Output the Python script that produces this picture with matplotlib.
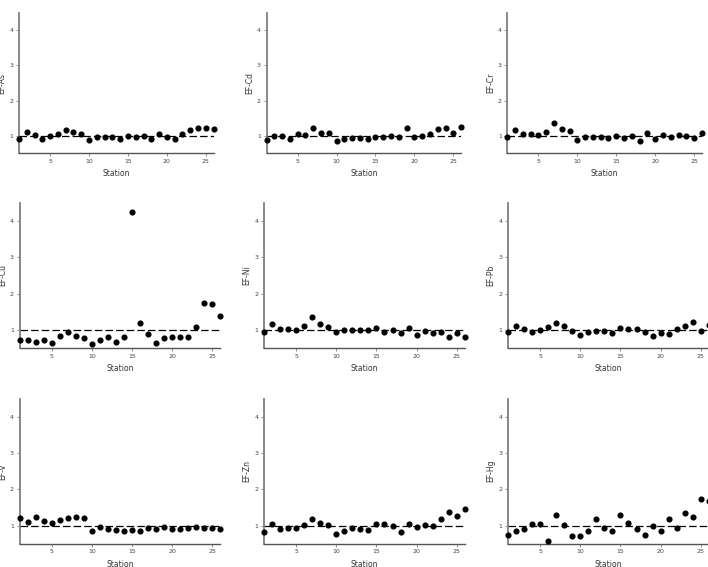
import matplotlib
matplotlib.use("Agg")
import matplotlib.pyplot as plt
import numpy as np

stations = list(range(1, 27))

ef_as = [0.92, 1.10, 1.01, 0.92, 1.00, 1.06, 1.17, 1.10, 1.05, 0.88, 0.95, 0.96, 0.96,
         0.92, 1.00, 0.95, 0.99, 0.91, 1.04, 0.95, 0.91, 1.04, 1.15, 1.21, 1.21, 1.20]
ef_cd = [0.89, 1.00, 1.00, 0.92, 1.04, 1.01, 1.23, 1.08, 1.09, 0.84, 0.91, 0.93, 0.93,
         0.91, 0.96, 0.97, 0.98, 0.96, 1.21, 0.97, 0.99, 1.06, 1.19, 1.21, 1.09, 1.25]
ef_cr = [0.97, 1.15, 1.04, 1.05, 1.03, 1.12, 1.37, 1.18, 1.14, 0.89, 0.95, 0.97, 0.97,
         0.94, 0.99, 0.93, 0.99, 0.86, 1.07, 0.91, 1.02, 0.95, 1.02, 0.98, 0.93, 1.09]
ef_cu = [0.71, 0.73, 0.67, 0.71, 0.65, 0.82, 0.94, 0.83, 0.77, 0.62, 0.71, 0.80, 0.67,
         0.81, 4.25, 1.19, 0.90, 0.63, 0.77, 0.81, 0.79, 0.81, 1.09, 1.74, 1.71, 1.38]
ef_ni = [0.95, 1.15, 1.02, 1.03, 1.01, 1.11, 1.36, 1.17, 1.08, 0.93, 1.01, 1.00, 0.99,
         0.99, 1.05, 0.94, 0.99, 0.91, 1.06, 0.86, 0.96, 0.92, 0.94, 0.81, 0.91, 0.79]
ef_pb = [0.94, 1.10, 1.02, 0.95, 1.01, 1.09, 1.19, 1.12, 0.98, 0.86, 0.94, 0.97, 0.97,
         0.92, 1.06, 1.02, 1.02, 0.94, 0.82, 0.91, 0.90, 1.02, 1.11, 1.22, 0.96, 1.14]
ef_v = [1.22, 1.11, 1.23, 1.12, 1.07, 1.15, 1.22, 1.25, 1.21, 0.85, 0.97, 0.91, 0.87,
        0.86, 0.87, 0.84, 0.94, 0.90, 0.95, 0.90, 0.90, 0.93, 0.95, 0.94, 0.94, 0.90]
ef_zn = [0.82, 1.04, 0.91, 0.94, 0.94, 1.01, 1.17, 1.08, 1.01, 0.78, 0.85, 0.92, 0.91,
         0.89, 1.04, 1.03, 0.99, 0.81, 1.03, 0.96, 1.01, 1.00, 1.19, 1.38, 1.27, 1.45]
ef_hg = [0.73, 0.86, 0.90, 1.03, 1.04, 0.58, 1.30, 1.02, 0.70, 0.70, 0.85, 1.18, 0.94,
         0.85, 1.28, 1.07, 0.90, 0.73, 1.00, 0.86, 1.18, 0.92, 1.36, 1.24, 1.74, 1.69]

labels = ["EF-As", "EF-Cd", "EF-Cr", "EF-Cu", "EF-Ni", "EF-Pb", "EF-V", "EF-Zn", "EF-Hg"]
series = [ef_as, ef_cd, ef_cr, ef_cu, ef_ni, ef_pb, ef_v, ef_zn, ef_hg]
xticks = [5, 10, 15, 20, 25]
yticks = [1, 2, 3, 4]

W, H = 708, 567
fig = plt.figure(figsize=(W / 100, H / 100), dpi=100)

# axes boxes in pixels: (left, top, width, height)
row_boxes = [
    [(19, 12.7, 194.6, 140.6), (266.5, 12.7, 194.6, 140.6), (507.3, 12.7, 194.6, 140.6)],
    [(19.5, 203, 200.8, 145), (264, 203, 200.8, 145), (508, 203, 200.8, 145)],
    [(19.5, 398.7, 200.8, 145), (264, 398.7, 200.8, 145), (508, 398.7, 200.8, 145)],
]

spine_col = "#7f7f7f"
for i, (lab, vals) in enumerate(zip(labels, series)):
    r, c = divmod(i, 3)
    l, t, w, h = row_boxes[r][c]
    ax = fig.add_axes([l / W, 1 - (t + h) / H, w / W, h / H])
    ax.axhline(1, color="black", lw=0.9, dashes=(6, 2.5), zorder=1)
    ax.plot(stations, vals, "o", color="black", ms=3.4, clip_on=False, zorder=3)
    ax.set_xlim(1, 26)
    ax.set_ylim(0.5, 4.5)
    ax.set_xticks(xticks)
    ax.set_yticks(yticks)
    for s in ["top", "right"]:
        ax.spines[s].set_visible(False)
    ax.spines["left"].set_color(spine_col)
    ax.spines["left"].set_linewidth(1.3)
    ax.spines["bottom"].set_color("#555555")
    ax.spines["bottom"].set_linewidth(1.0)
    ax.tick_params(axis="both", labelsize=4.5, length=2, width=0.6, color=spine_col,
                   labelcolor="#444444", pad=2)
    ax.set_xlabel("Station", fontsize=5.5, color="#333333", labelpad=4)
    ax.set_ylabel(lab, fontsize=5.5, color="#333333", labelpad=2)

fig.savefig("out.png", dpi=100)
